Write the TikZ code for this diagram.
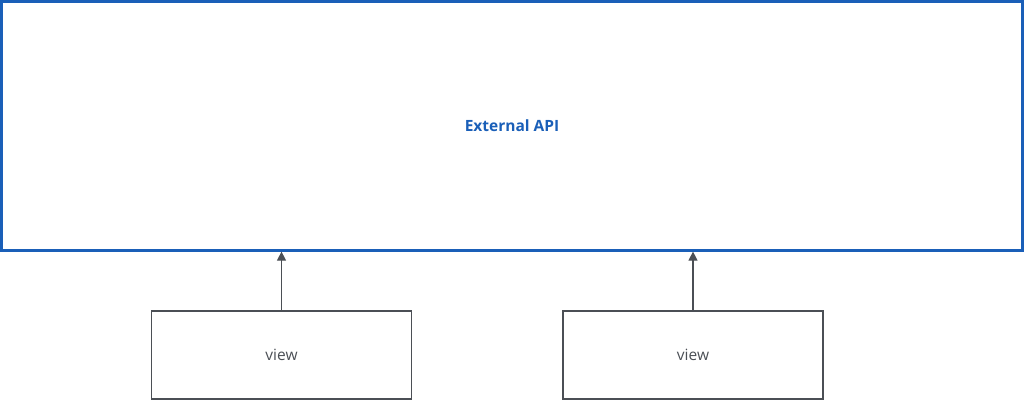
\documentclass[tikz,border=0pt]{standalone}
\usepackage{fontspec}
\setmainfont{Open Sans}
\usetikzlibrary{arrows.meta}

\definecolor{apiblue}{HTML}{1A5FB8}
\definecolor{boxgray}{HTML}{4B4F55}

\tikzset{
  apibox/.style={draw=apiblue, line width=2.2pt, minimum width=1021pt, minimum height=249pt,
    font=\fontsize{15.5}{18}\selectfont\bfseries, text=apiblue, inner sep=0pt},
  viewbox/.style={draw=boxgray, line width=1.4pt, minimum width=260pt, minimum height=88pt,
    font=\fontsize{15.5}{18}\selectfont, text=boxgray, inner sep=0pt},
  uses/.style={draw=boxgray, line width=1.2pt, -{Triangle[length=9pt,width=9pt]}}
}

\begin{document}
\begin{tikzpicture}[x=1pt, y=-1pt]

          \useasboundingbox (0, 0) rectangle (1024, 400);

          \node[apibox] (api) at (512, 126) {External API};

          \node[viewbox] (viewa) at (281.5, 355) {view};
          \node[viewbox] (viewb) at (693, 355) {view};

          \draw[uses] (viewa.north) -- (viewa.north |- api.south);
          \draw[uses] (viewb.north) -- (viewb.north |- api.south);

        \end{tikzpicture}
\end{document}
